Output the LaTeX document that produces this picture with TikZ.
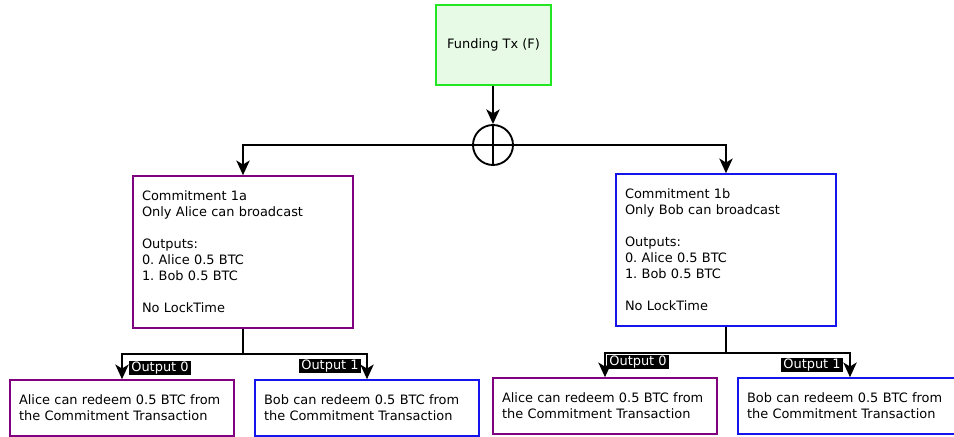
\documentclass[tikz,border=0pt]{standalone}
\usepackage{fontspec}
\setmainfont{DejaVu Sans}
\usetikzlibrary{arrows.meta}
\frenchspacing

\definecolor{fundgreen}{RGB}{34,230,34}
\definecolor{fundfill}{RGB}{230,250,230}
\definecolor{alicepurple}{RGB}{128,0,128}
\definecolor{bobblue}{RGB}{20,20,235}

\begin{document}
\begin{tikzpicture}[x=0.75pt,y=0.75pt,yscale=-1,xscale=1,
    every node/.style={font=\fontsize{9.7}{12}\selectfont},
    txbox/.style={draw,line width=1.2pt,align=left,inner xsep=6.75pt,inner ysep=2pt},
    commitbox/.style={txbox,text width=151.5pt,minimum height=114pt},
    redeembox/.style={txbox,text width=154.5pt,minimum height=42pt},
    outlabel/.style={fill=black,text=white,inner xsep=1.5pt,inner ysep=1pt},
    wire/.style={line width=1.4pt},
    arr/.style={wire,-{Stealth[length=11pt,width=10pt,inset=3pt]}}]
    \useasboundingbox (0,0) rectangle (954,436);

    % Funding transaction
    \node[draw=fundgreen,fill=fundfill,line width=1.2pt,minimum width=86.25pt,minimum height=60pt] (fund) at (493.5,45) {Funding Tx (F)};
    \node[draw,circle,wire,minimum size=30pt,inner sep=0pt] (xor) at (493,145) {};

    % Commitment transactions
    \node[commitbox,draw=alicepurple] (comA) at (243,252) {Commitment 1a\\Only Alice can broadcast\\[12pt]Outputs:\\0. Alice 0.5 BTC\\1. Bob 0.5 BTC\\[12pt]No LockTime};
    \node[commitbox,draw=bobblue] (comB) at (726,250) {Commitment 1b\\Only Bob can broadcast\\[12pt]Outputs:\\0. Alice 0.5 BTC\\1. Bob 0.5 BTC\\[12pt]No LockTime};

    % Outputs
    \node[redeembox,draw=alicepurple] (redA0) at (122,408) {Alice can redeem 0.5 BTC from\\the Commitment Transaction};
    \node[redeembox,draw=bobblue] (redA1) at (367,408) {Bob can redeem 0.5 BTC from\\the Commitment Transaction};
    \node[redeembox,draw=alicepurple] (redB0) at (605,406) {Alice can redeem 0.5 BTC from\\the Commitment Transaction};
    \node[redeembox,draw=bobblue] (redB1) at (850,406) {Bob can redeem 0.5 BTC from\\the Commitment Transaction};

    \coordinate (joinA) at (243,354);
    \coordinate (joinB) at (726,353);

    % Connectors
    \draw[arr] (fund.south -| xor) -- (xor);
    \draw[wire] (xor.north) -- (xor.south);
    \draw[arr] (xor.center) -| (comA.north);
    \draw[arr] (xor.center) -| (comB.north);

    \draw[wire] (comA.south) -- (joinA);
    \draw[arr] (joinA) -| (redA0.north);
    \draw[arr] (joinA) -| (redA1.north);
    \draw[wire] (comB.south) -- (joinB);
    \draw[arr] (joinB) -| (redB0.north);
    \draw[arr] (joinB) -| (redB1.north);

    % Output labels
    \node[outlabel] (labA0) at (160,368) {Output 0};
    \node[outlabel] (labA1) at (330,366) {Output 1};
    \node[outlabel] (labB0) at (638,362) {Output 0};
    \node[outlabel] (labB1) at (812,365) {Output 1};
\end{tikzpicture}
\end{document}
